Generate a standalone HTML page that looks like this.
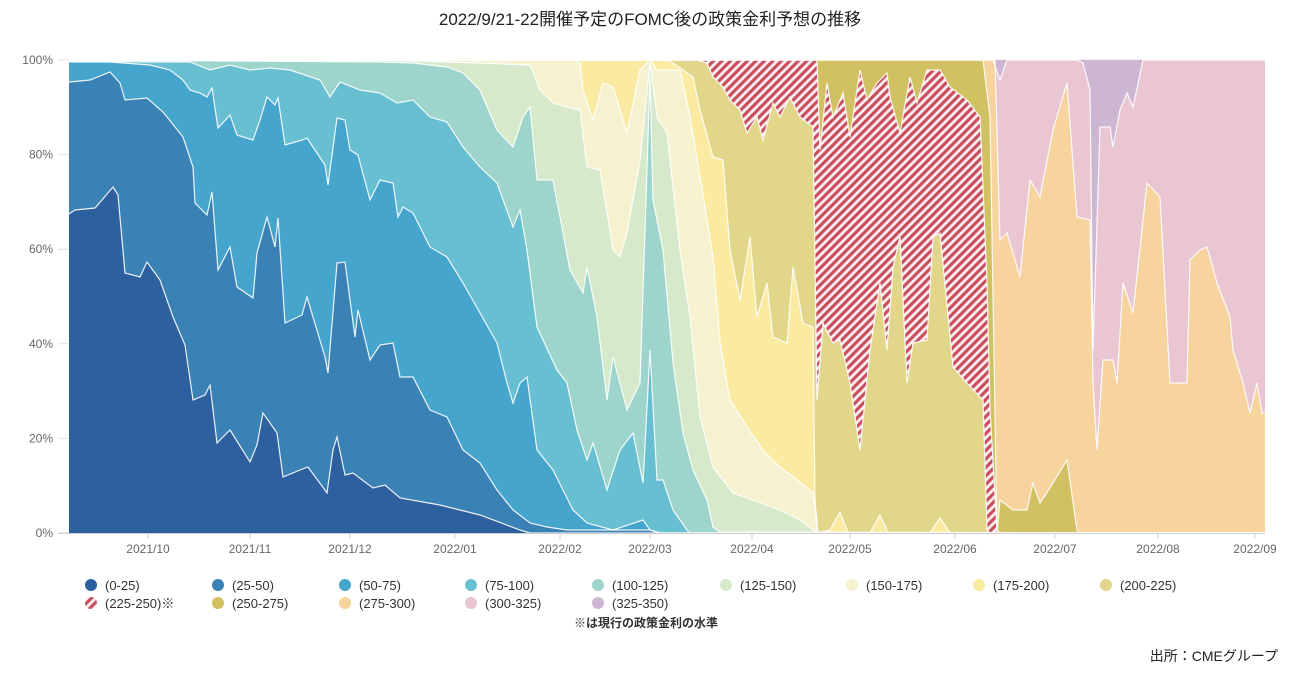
<!DOCTYPE html>
<html><head><meta charset="utf-8">
<style>
body{margin:0;background:#fff;}
svg{display:block;font-family:"Liberation Sans","Noto Sans CJK JP",sans-serif;}
</style></head>
<body>
<svg id="c" width="1300" height="683" xmlns="http://www.w3.org/2000/svg">
<defs>
<pattern id="hatch" patternUnits="userSpaceOnUse" width="6" height="6" patternTransform="rotate(45)">
<rect width="6" height="6" fill="#fbeef0"/><rect width="3.2" height="6" fill="#c8505e"/>
</pattern>
</defs>
<text x="650" y="25" text-anchor="middle" font-size="17" fill="#222">2022/9/21-22開催予定のFOMC後の政策金利予想の推移</text>
<g id="grid" stroke="#e4e4e4" stroke-width="1"></g>
<g id="areas"></g>
<g id="axis" font-size="12" fill="#666"></g>
<g id="legend" font-size="13" fill="#333"></g>
<text x="646" y="627" text-anchor="middle" font-size="12" font-weight="bold" fill="#333">※は現行の政策金利の水準</text>
<text x="1278" y="661" text-anchor="end" font-size="14" fill="#222">出所：CMEグループ</text>
</svg>
<script>
var NS="http://www.w3.org/2000/svg";
function el(t,a,p,txt){var e=document.createElementNS(NS,t);for(var k in a)e.setAttribute(k,a[k]);if(txt!=null)e.textContent=txt;p.appendChild(e);return e;}
var X0=69,X1=1265,Y0=533,Y100=60;
var grid=document.getElementById('grid'),axis=document.getElementById('axis');
for(var i=0;i<=5;i++){var y=Y0-(Y0-Y100)*i/5;el('line',{x1:58,x2:X1,y1:y,y2:y},grid);
el('text',{x:53,y:y+4,'text-anchor':'end'},axis,(i*20)+'%');}
var C=[];
C[1]=[[69,214],[75,210],[95,208],[102,200],[113,187],[118,195],[125,273],[140,277],[147,262],[160,280],[173,317],[185,345],[193,400],[205,395],[210,385],[217,443],[230,430],[250,462],[257,445],[263,413],[277,433],[283,477],[300,470],[308,467],[327,493],[333,450],[337,437],[345,475],[353,473],[373,488],[385,485],[400,498],[440,505],[480,515],[520,530],[530,533],[1265,533]];
C[2]=[[69,82],[90,80],[110,72],[120,83],[125,100],[147,98],[163,112],[183,137],[193,167],[195,203],[207,215],[212,192],[218,270],[230,247],[237,287],[253,298],[257,253],[267,217],[275,247],[278,218],[285,323],[302,315],[307,297],[325,357],[328,373],[337,263],[345,262],[350,300],[355,337],[358,310],[370,360],[380,345],[393,343],[400,377],[413,377],[430,410],[447,417],[463,450],[480,463],[497,490],[513,510],[530,523],[547,527],[567,530],[650,530],[660,533],[1265,533]];
C[3]=[[69,62],[110,62],[150,65],[170,70],[183,80],[190,90],[200,93],[207,97],[212,88],[218,128],[230,115],[237,135],[253,140],[260,120],[267,97],[275,105],[278,98],[285,145],[302,140],[307,138],[325,165],[328,185],[337,118],[345,120],[350,150],[358,155],[370,200],[380,180],[393,183],[398,217],[403,207],[413,213],[430,247],[447,257],[463,283],[480,313],[497,343],[507,383],[513,403],[520,383],[527,377],[537,450],[553,470],[573,510],[587,523],[613,530],[643,520],[650,530],[660,533],[1265,533]];
C[4]=[[69,61],[150,62],[190,62],[210,70],[230,65],[250,70],[270,68],[290,70],[320,80],[330,97],[340,82],[360,90],[380,93],[397,103],[413,100],[430,117],[447,122],[463,147],[480,167],[497,183],[513,227],[520,210],[527,250],[537,327],[557,370],[567,383],[577,430],[587,460],[593,443],[607,490],[620,450],[633,433],[643,483],[650,350],[657,480],[663,480],[673,510],[687,530],[690,533],[1265,533]];
C[5]=[[69,60],[380,62],[413,63],[447,67],[463,73],[480,90],[497,130],[513,147],[523,117],[530,107],[537,180],[553,180],[570,270],[583,293],[587,267],[597,317],[607,400],[613,357],[627,410],[640,383],[650,77],[653,200],[663,250],[673,363],[683,433],[693,470],[707,500],[713,527],[720,532],[1265,533]];
C[6]=[[69,60],[380,60],[480,63],[530,65],[540,90],[553,103],[567,107],[580,110],[587,167],[600,170],[613,250],[620,257],[627,233],[640,160],[650,63],[657,117],[667,133],[680,250],[690,317],[700,417],[713,467],[733,493],[780,510],[800,520],[813,530],[820,533],[1265,533]];
C[7]=[[69,60],[575,60],[580,63],[583,90],[593,120],[603,83],[613,87],[627,133],[640,70],[650,60],[657,70],[680,70],[690,117],[700,177],[713,257],[720,343],[730,400],[747,427],[763,450],[780,467],[797,480],[813,493],[818,533],[1265,533]];
C[8]=[[69,60],[665,60],[673,63],[693,77],[700,110],[713,157],[723,160],[730,250],[740,300],[750,237],[757,317],[767,283],[773,337],[787,343],[793,267],[803,323],[813,327],[815,500],[818,533],[830,530],[840,512],[848,533],[870,533],[880,515],[888,533],[930,533],[940,518],[950,533],[1265,533]];
C[9]=[[69,60],[697,60],[707,63],[713,77],[723,87],[730,100],[740,110],[747,133],[757,117],[763,140],[773,103],[780,117],[790,97],[800,117],[813,127],[817,400],[823,323],[833,343],[840,340],[850,383],[860,450],[870,350],[880,283],[887,350],[893,267],[900,237],[907,383],[913,343],[927,340],[933,237],[940,233],[953,367],[967,383],[983,400],[987,530],[990,533],[1265,533]];
C[10]=[[69,60],[817,60],[820,150],[827,83],[833,117],[843,93],[850,137],[860,70],[867,100],[877,83],[887,73],[890,97],[900,133],[910,77],[917,103],[927,70],[940,70],[950,87],[967,100],[980,117],[987,283],[990,410],[997,530],[1000,533],[1265,533]];
C[11]=[[69,60],[983,60],[990,117],[997,533],[1000,500],[1013,510],[1027,510],[1033,483],[1040,503],[1053,483],[1067,460],[1077,530],[1080,533],[1265,533]];
C[12]=[[69,60],[995,60],[1000,240],[1007,233],[1020,277],[1030,180],[1040,197],[1053,130],[1067,83],[1077,217],[1090,220],[1093,383],[1097,450],[1103,360],[1113,360],[1117,383],[1123,283],[1133,313],[1147,183],[1160,197],[1170,383],[1187,383],[1190,260],[1200,250],[1207,247],[1217,283],[1230,317],[1233,350],[1243,383],[1250,413],[1257,383],[1262,413],[1265,413]];
C[13]=[[69,60],[993,60],[1000,80],[1007,60],[1077,60],[1083,63],[1090,90],[1093,350],[1100,127],[1110,127],[1113,147],[1120,110],[1127,93],[1133,107],[1143,60],[1265,60]];
C[14]=[[69,60],[1265,60]];
var cols=[null,'#2e5f9e','#3a82b5','#46a5cd','#67bfd1','#9dd5cc','#d6e9cb','#f6f2cf','#fbeba2','#e2d68b','url(#hatch)','#d1c163','#f7d39e','#eac6d3','#cdb6d2'];
var areas=document.getElementById('areas');
for(var k=14;k>=1;k--){
 var pts=C[k].map(function(p){return p[0]+','+p[1];}).join(' ');
 el('polygon',{points:pts+' 1265,533 69,533',fill:cols[k]},areas);
}
for(var k=1;k<=13;k++){
 el('polyline',{points:C[k].map(function(p){return p[0]+','+p[1];}).join(' '),fill:'none',stroke:'#fff','stroke-width':1.2,'stroke-opacity':0.9},areas);
}
el('line',{x1:58,x2:X1,y1:533.5,y2:533.5,stroke:'#ccc'},axis);
var xl=[[148,'2021/10'],[250,'2021/11'],[350,'2021/12'],[455,'2022/01'],[560,'2022/02'],[650,'2022/03'],[752,'2022/04'],[850,'2022/05'],[955,'2022/06'],[1055,'2022/07'],[1158,'2022/08'],[1255,'2022/09']];
xl.forEach(function(d){el('line',{x1:d[0],x2:d[0],y1:533,y2:539,stroke:'#ccc'},axis);el('text',{x:d[0],y:553,'text-anchor':'middle'},axis,d[1]);});
var lg=document.getElementById('legend');
var names=['(0-25)','(25-50)','(50-75)','(75-100)','(100-125)','(125-150)','(150-175)','(175-200)','(200-225)','(225-250)※','(250-275)','(275-300)','(300-325)','(325-350)'];
var cx=[91,218,345,471,598,726,852,979,1106];
for(var i=0;i<names.length;i++){
 var r=i<9?0:1,c=i<9?i:i-9,x=cx[c],y=r?603:585;
 if(i==9){el('circle',{cx:x,cy:y,r:6,fill:'url(#hatch)'},lg);}
 else el('circle',{cx:x,cy:y,r:6,fill:cols[i+1]},lg);
 el('text',{x:x+14,y:y+5},lg,names[i]);
}
</script>
</body></html>
